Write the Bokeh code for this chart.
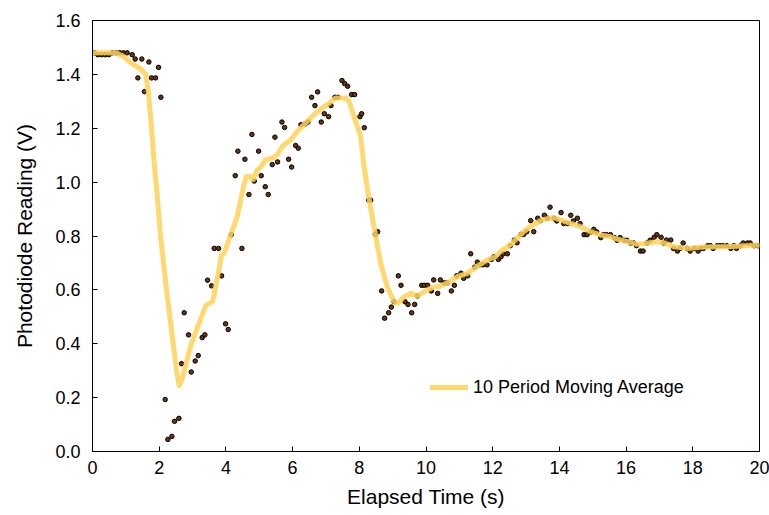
from bokeh.plotting import figure
from bokeh.models import FixedTicker, NumeralTickFormatter, Range1d, Legend, LegendItem, ColumnDataSource
from bokeh.embed import file_html
from bokeh.resources import INLINE

# Measured photodiode readings (s, V)
time_s = [0.05, 0.16, 0.27, 0.38, 0.49, 0.60, 0.71, 0.82, 0.93, 1.04, 1.19, 1.28, 1.36, 1.48, 1.56, 1.69, 1.77, 1.89, 1.98, 2.05,
          2.18, 2.26, 2.38, 2.46, 2.59, 2.67, 2.75, 2.88, 2.96, 3.08, 3.17, 3.29, 3.37, 3.45, 3.57, 3.65, 3.78, 3.87, 3.99, 4.07,
          4.16, 4.28, 4.36, 4.48, 4.57, 4.69, 4.78, 4.85, 4.98, 5.06, 5.18, 5.27, 5.39, 5.47, 5.55, 5.68, 5.76, 5.88, 5.97, 6.09,
          6.17, 6.25, 6.38, 6.46, 6.57, 6.67, 6.75, 6.86, 6.95, 7.08, 7.15, 7.27, 7.36, 7.48, 7.56, 7.65, 7.77, 7.86, 8.02, 8.07,
          8.15, 8.28, 8.34, 8.48, 8.55, 8.67, 8.76, 8.88, 8.96, 9.04, 9.17, 9.25, 9.37, 9.46, 9.57, 9.66, 9.74, 9.87, 9.95, 10.05,
          10.16, 10.23, 10.35, 10.43, 10.55, 10.64, 10.76, 10.85, 10.92, 11.05, 11.13, 11.25, 11.34, 11.46, 11.54, 11.62, 11.71, 11.83, 11.96, 12.04,
          12.17, 12.25, 12.32, 12.44, 12.53, 12.65, 12.73, 12.85, 12.93, 13.02, 13.14, 13.23, 13.35, 13.43, 13.55, 13.64, 13.72, 13.84, 13.92, 14.05,
          14.13, 14.25, 14.34, 14.42, 14.54, 14.62, 14.74, 14.83, 14.95, 15.03, 15.12, 15.24, 15.32, 15.41, 15.53, 15.65, 15.73, 15.82, 15.94, 16.02,
          16.14, 16.23, 16.31, 16.43, 16.51, 16.63, 16.72, 16.84, 16.92, 17.05, 17.13, 17.21, 17.34, 17.42, 17.54, 17.62, 17.71, 17.83, 17.92, 18.05,
          18.16, 18.24, 18.32, 18.45, 18.53, 18.61, 18.73, 18.82, 18.90, 19.02, 19.14, 19.23, 19.31, 19.43, 19.51, 19.64, 19.72, 19.84, 19.95]
reading_v = [1.480, 1.473, 1.473, 1.473, 1.473, 1.480, 1.480, 1.480, 1.480, 1.480, 1.473, 1.457, 1.387, 1.457, 1.336, 1.446, 1.387, 1.387, 1.426, 1.315,
             0.193, 0.045, 0.056, 0.112, 0.123, 0.326, 0.515, 0.433, 0.295, 0.336, 0.356, 0.423, 0.433, 0.636, 0.615, 0.754, 0.754, 0.652, 0.474, 0.453,
             0.805, 1.024, 1.115, 0.754, 1.085, 0.954, 1.177, 1.004, 1.115, 1.024, 0.983, 0.954, 1.065, 1.167, 1.075, 1.223, 1.203, 1.085, 1.056, 1.136,
             1.126, 1.213, 1.216, 1.223, 1.315, 1.284, 1.335, 1.223, 1.254, 1.243, 1.284, 1.315, 1.315, 1.377, 1.366, 1.356, 1.325, 1.325, 1.243, 1.254,
             1.202, 0.933, 0.933, 0.806, 0.816, 0.596, 0.495, 0.515, 0.536, 0.556, 0.652, 0.617, 0.556, 0.546, 0.515, 0.546, 0.577, 0.617, 0.617, 0.617,
             0.596, 0.637, 0.587, 0.637, 0.626, 0.626, 0.596, 0.617, 0.652, 0.662, 0.643, 0.652, 0.734, 0.684, 0.703, 0.693, 0.693, 0.693, 0.713, 0.723,
             0.713, 0.723, 0.734, 0.734, 0.764, 0.785, 0.775, 0.806, 0.806, 0.816, 0.857, 0.816, 0.866, 0.857, 0.877, 0.866, 0.907, 0.866, 0.856, 0.887,
             0.846, 0.846, 0.877, 0.856, 0.866, 0.846, 0.805, 0.805, 0.815, 0.825, 0.815, 0.794, 0.805, 0.805, 0.805, 0.794, 0.784, 0.794, 0.784, 0.784,
             0.774, 0.774, 0.764, 0.744, 0.744, 0.774, 0.784, 0.795, 0.805, 0.795, 0.774, 0.785, 0.785, 0.754, 0.744, 0.754, 0.774, 0.754, 0.744, 0.754,
             0.744, 0.754, 0.754, 0.764, 0.764, 0.754, 0.764, 0.764, 0.764, 0.764, 0.754, 0.764, 0.754, 0.764, 0.774, 0.774, 0.774, 0.764, 0.764]

# 10 period moving average curve
ma_time = [0.0, 0.70, 0.95, 1.14, 1.44, 1.60, 1.68, 1.77, 1.85, 1.94, 2.04, 2.22, 2.40, 2.52, 2.60, 2.69, 2.94, 3.19, 3.39, 3.50,
           3.60, 3.80, 3.86, 3.96, 4.14, 4.34, 4.54, 4.62, 4.72, 4.82, 4.94, 5.04, 5.19, 5.39, 5.54, 5.69, 5.94, 6.14, 6.39, 6.64,
           6.89, 7.09, 7.29, 7.59, 7.69, 7.84, 7.99, 8.04, 8.14, 8.29, 8.44, 8.64, 8.84, 9.04, 9.16, 9.34, 9.54, 9.74, 9.94, 10.19,
           10.43, 10.64, 10.94, 11.24, 11.54, 11.84, 12.08, 12.23, 12.53, 12.93, 13.13, 13.43, 13.68, 13.83, 14.03, 14.33, 14.63, 14.93, 15.23, 15.53,
           15.83, 16.13, 16.33, 16.63, 16.93, 17.13, 17.43, 17.83, 18.23, 18.63, 19.03, 19.43, 20.0]
ma_value = [1.480, 1.480, 1.465, 1.443, 1.420, 1.400, 1.330, 1.200, 1.070, 0.950, 0.800, 0.600, 0.420, 0.300, 0.245, 0.270, 0.390, 0.475, 0.540, 0.550,
            0.556, 0.680, 0.725, 0.740, 0.804, 0.872, 0.990, 1.022, 1.020, 1.010, 1.045, 1.056, 1.083, 1.089, 1.101, 1.132, 1.157, 1.188, 1.219, 1.250,
            1.275, 1.293, 1.312, 1.312, 1.300, 1.244, 1.188, 1.169, 1.058, 0.940, 0.835, 0.698, 0.611, 0.556, 0.550, 0.574, 0.587, 0.577, 0.593, 0.609,
            0.614, 0.626, 0.649, 0.661, 0.688, 0.711, 0.723, 0.742, 0.767, 0.816, 0.835, 0.857, 0.866, 0.868, 0.860, 0.847, 0.835, 0.816, 0.804, 0.797,
            0.785, 0.776, 0.769, 0.773, 0.779, 0.775, 0.760, 0.754, 0.758, 0.760, 0.760, 0.763, 0.766]

x_ticks = [0, 2, 4, 6, 8, 10, 12, 14, 16, 18, 20]
y_ticks = [0.0, 0.2, 0.4, 0.6, 0.8, 1.0, 1.2, 1.4, 1.6]

FONT = "Liberation Sans"

p = figure(width=769, height=515, output_backend="svg", toolbar_location=None,
           x_range=Range1d(0, 20), y_range=Range1d(0, 1.6),
           min_border_left=92, min_border_right=10, min_border_top=20, min_border_bottom=64)
p.background_fill_color = "white"
p.border_fill_color = "white"
p.outline_line_color = "black"
p.outline_line_width = 1
p.xgrid.visible = False
p.ygrid.visible = False

for ax in (p.xaxis[0], p.yaxis[0]):
    ax.axis_line_color = "black"
    ax.major_tick_line_color = "black"
    ax.major_tick_in = 5
    ax.major_tick_out = 0
    ax.minor_tick_line_color = None
    ax.major_label_text_font = FONT
    ax.major_label_text_font_size = "18px"
    ax.major_label_text_color = "black"
    ax.axis_label_text_font = FONT
    ax.axis_label_text_font_size = "21px"
    ax.axis_label_text_font_style = "normal"
    ax.axis_label_text_color = "black"

p.xaxis.ticker = FixedTicker(ticks=x_ticks)
p.yaxis.ticker = FixedTicker(ticks=y_ticks)
p.yaxis.formatter = NumeralTickFormatter(format="0.0")
p.xaxis.axis_label = "Elapsed Time (s)"
p.yaxis.axis_label = "Photodiode Reading (V)"
p.xaxis.major_label_standoff = 9
p.xaxis.axis_label_standoff = 8
p.yaxis.major_label_standoff = 12
p.yaxis.axis_label_standoff = 16

pts = ColumnDataSource(dict(t=time_s, v=reading_v))
ma = ColumnDataSource(dict(t=ma_time, v=ma_value))

p.scatter("t", "v", source=pts, size=4.5, fill_color="#6b3510", line_color="black", line_width=1)
ma_r = p.line("t", "v", source=ma, line_color="#FFD257", line_width=5, line_alpha=0.85,
              line_join="round", line_cap="round")

legend = Legend(items=[LegendItem(label="10 Period Moving Average", renderers=[ma_r])],
                location=(338, 53), padding=0, margin=0, spacing=0,
                glyph_width=38, glyph_height=22, label_height=22, label_standoff=5,
                label_text_font=FONT, label_text_font_size="18px", label_text_color="black",
                border_line_alpha=0, background_fill_alpha=0)
p.add_layout(legend)

open("out.html", "w").write(file_html(p, INLINE))
